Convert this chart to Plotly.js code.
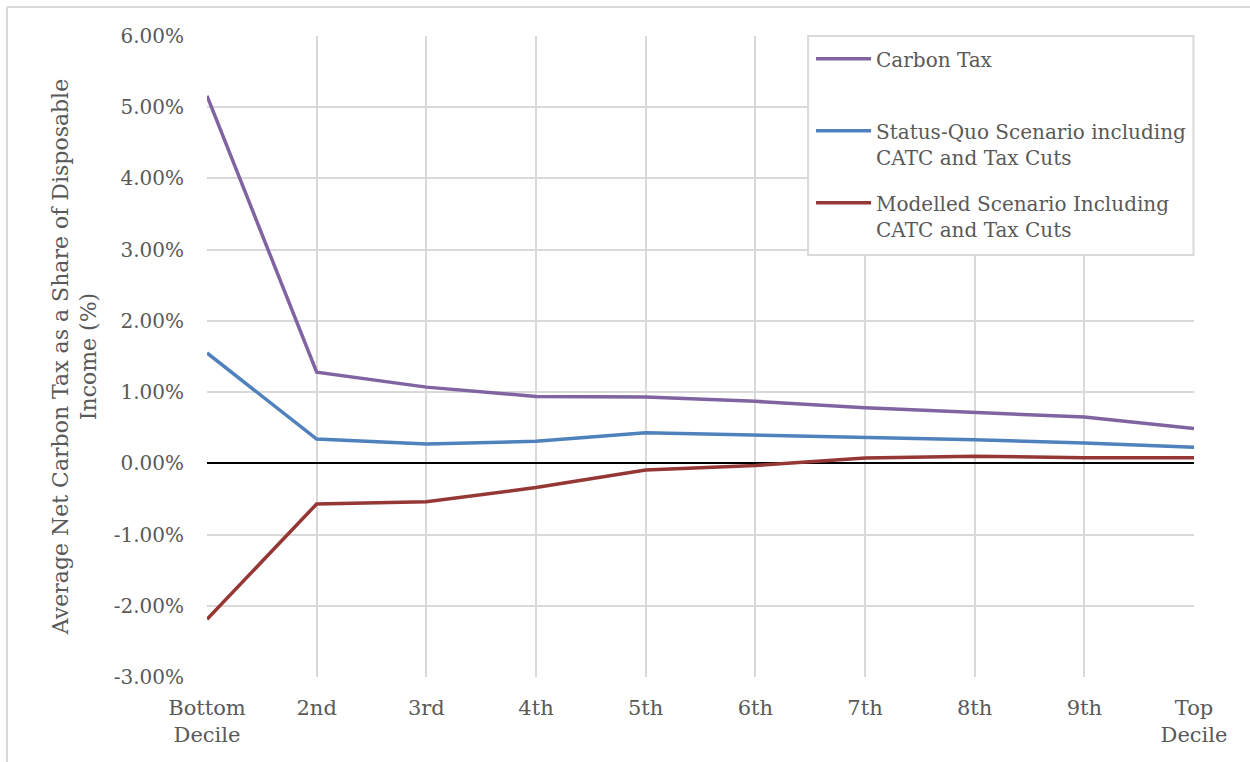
<!DOCTYPE html>
<html>
<head>
<meta charset="utf-8">
<script src="https://cdn.plot.ly/plotly-3.0.1.min.js"></script>
<style>html,body{margin:0;padding:0;background:#fff;}#chart{width:1250px;height:762px;}</style>
</head>
<body>
<div id="chart"></div>
<script>
const categories = ["Bottom<br>Decile", "2nd", "3rd", "4th", "5th", "6th", "7th", "8th", "9th", "Top<br>Decile"];
const carbonTax = [5.16, 1.28, 1.07, 0.94, 0.93, 0.87, 0.78, 0.71, 0.65, 0.49];
const statusQuo = [1.55, 0.34, 0.27, 0.31, 0.43, 0.40, 0.37, 0.33, 0.285, 0.225];
const modelled = [-2.19, -0.57, -0.54, -0.34, -0.094, -0.03, 0.075, 0.10, 0.08, 0.08];
const seriesNames = ["Carbon Tax<br> ", "Status-Quo Scenario including<br>CATC and Tax Cuts", "Modelled Scenario Including<br>CATC and Tax Cuts"];
const yTicks = [-3, -2, -1, 0, 1, 2, 3, 4, 5, 6];
const yTickText = yTicks.map(v => v.toFixed(2) + "%");
const yTitle = "Average Net Carbon Tax as a Share of Disposable<br>Income (%)";

const FONT = "DejaVu Serif";
const GREY = "#595959";
const colors = ["#8064A2", "#4F81BD", "#953735"];
const xIdx = categories.map((c, i) => i);

const traces = [carbonTax, statusQuo, modelled].map((vals, k) => ({
  type: "scatter",
  mode: "lines",
  x: xIdx,
  y: vals,
  name: seriesNames[k],
  legendgroup: "g" + k,
  line: {color: colors[k], width: 3.5},
  hoverinfo: "y"
}));

const layout = {
  width: 1250,
  height: 762,
  margin: {l: 207, r: 56, t: 36, b: 85},
  paper_bgcolor: "#ffffff",
  plot_bgcolor: "#ffffff",
  font: {family: FONT, color: GREY, size: 20},
  showlegend: true,
  legend: {
    x: 0.612, y: 0.995, xanchor: "left", yanchor: "top",
    bgcolor: "rgba(255,255,255,0)",
    borderwidth: 0,
    font: {family: FONT, size: 20, color: GREY},
    traceorder: "grouped",
    tracegroupgap: 17,
    valign: "top",
    itemwidth: 55
  },
  xaxis: {
    type: "linear",
    range: [0, 9],
    tickmode: "array",
    tickvals: xIdx,
    ticktext: categories,
    showgrid: true,
    gridcolor: "#d9d9d9",
    gridwidth: 2,
    zeroline: false,
    showline: false,
    ticks: "",
    ticklabelstandoff: 16,
    tickfont: {family: FONT, size: 21, color: GREY},
    fixedrange: true
  },
  yaxis: {
    range: [-3, 6],
    tickmode: "array",
    tickvals: yTicks,
    ticktext: yTickText,
    showgrid: true,
    gridcolor: "#d9d9d9",
    gridwidth: 2,
    zeroline: true,
    zerolinecolor: "#000000",
    zerolinewidth: 2,
    showline: false,
    ticks: "",
    ticklabelstandoff: 22,
    tickfont: {family: FONT, size: 20, color: GREY},
    title: {text: yTitle, font: {family: FONT, size: 22, color: GREY}, standoff: 10},
    automargin: false,
    fixedrange: true
  },
  shapes: [
    {type: "rect", xref: "paper", yref: "paper", x0: 0.609, x1: 0.9995, y0: 0.6585, y1: 1,
     line: {color: "#d9d9d9", width: 2}, fillcolor: "#ffffff", layer: "above"},
    {type: "line", xref: "paper", yref: "paper", x0: -0.2026, x1: 1.06, y0: 1.0452, y1: 1.0452,
     line: {color: "#d9d9d9", width: 2}},
    {type: "line", xref: "paper", yref: "paper", x0: -0.2026, x1: -0.2026, y0: 1.0452, y1: -0.14,
     line: {color: "#d9d9d9", width: 2}}
  ]
};

Plotly.newPlot("chart", traces, layout, {displayModeBar: false, responsive: false});
</script>
</body>
</html>
